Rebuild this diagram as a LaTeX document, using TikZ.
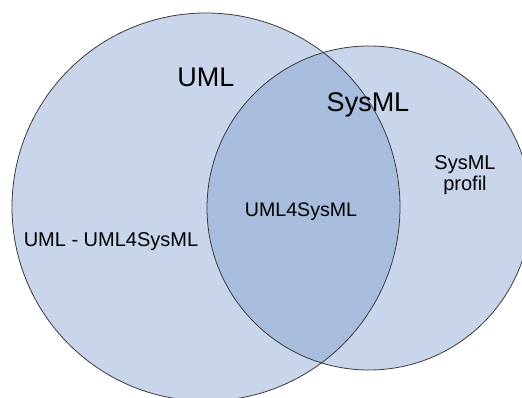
\documentclass[tikz,border=0pt]{standalone}
\usepackage{fontspec}
\setmainfont{Liberation Sans}
\definecolor{setblue}{RGB}{123,155,204}
\definecolor{rimgrey}{RGB}{60,60,64}
\tikzset{
  setfill/.style={fill=setblue,fill opacity=0.41},
  setrim/.style={draw=rimgrey,line width=0.8pt},
  bigtext/.style={inner sep=0pt,anchor=base,font=\fontsize{27}{30}\selectfont},
  smalltext/.style={inner sep=0pt,anchor=base,font=\fontsize{20}{22}\selectfont}
}
\begin{document}
\begin{tikzpicture}[x=1pt,y=-1pt]
  \useasboundingbox (0,0) rectangle (522,398);
  \clip (0,0) rectangle (522,398);
  \fill[white] (0,0) rectangle (522,398);
  \coordinate (uml) at (206,207);
  \coordinate (sysml) at (369,208);
  \fill[setfill] (uml) circle (194pt);
  \fill[setfill] (sysml) circle (162pt);
  \draw[setrim] (uml) circle (194pt);
  \draw[setrim] (sysml) circle (162pt);
  \node[bigtext] (umlname) at (206,87) {UML};
  \node[bigtext] (sysmlname) at (368,112) {SysML};
  \node[smalltext,font=\fontsize{19.6}{22}\selectfont] (common) at (301,217) {UML4SysML};
  \node[smalltext] (umlonly) at (111,247) {UML - UML4SysML};
  \node[smalltext,align=center,font=\fontsize{20}{21}\selectfont] (profil) at (465,191) {SysML\\profil};
\end{tikzpicture}
\end{document}
